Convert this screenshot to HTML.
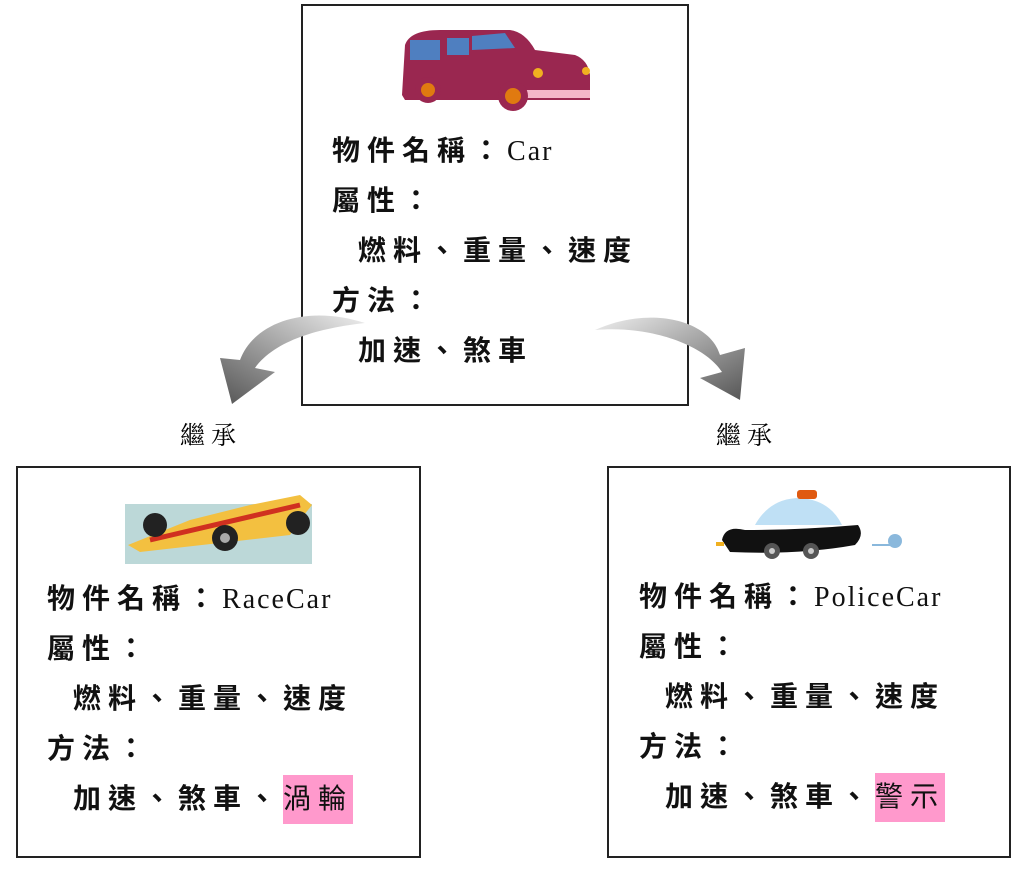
<!DOCTYPE html>
<html><head><meta charset="utf-8"><style>
body{margin:0;width:1017px;height:869px;background:#fff;position:relative;overflow:hidden;font-family:"Liberation Serif","Noto Sans CJK TC",serif;}
.box{position:absolute;border:2px solid #222;box-sizing:border-box;background:#fff}
.t{position:absolute;font-size:28px;line-height:30px;white-space:nowrap;color:#111;font-family:"Liberation Serif","Noto Sans CJK TC",sans-serif;letter-spacing:7px;font-weight:bold}
.t span.l{letter-spacing:2px;font-weight:normal}
.hl{background:#ff99cc;padding:9px 0 9px 0;font-weight:normal}
.lbl{position:absolute;font-size:25px;font-family:"Noto Serif CJK SC","Noto Sans CJK TC",serif;letter-spacing:6px}
</style></head><body>
<div class="box" style="left:301px;top:4px;width:388px;height:402px"></div>
<div class="box" style="left:16px;top:466px;width:405px;height:392px"></div>
<div class="box" style="left:607px;top:466px;width:404px;height:392px"></div>

<svg width="1017" height="869" style="position:absolute;left:0;top:0">
<defs>
<linearGradient id="g1" x1="1" y1="0" x2="0" y2="1"><stop offset="0" stop-color="#eee"/><stop offset="1" stop-color="#555"/></linearGradient>
<linearGradient id="g2" x1="0" y1="0" x2="1" y2="1"><stop offset="0" stop-color="#eee"/><stop offset="1" stop-color="#555"/></linearGradient>
</defs>
<path d="M365,323 C310,305 255,320 240,360 L220,358 L232,404 L275,372 L255,368 C275,340 320,328 365,323 Z" fill="url(#g1)"/>
<path d="M595,330 C650,305 710,320 720,355 L745,348 L740,400 L700,378 L722,372 C705,345 650,325 595,330 Z" fill="url(#g2)"/>
<g>
<path d="M402,95 L405,45 Q410,30 440,30 L510,30 Q525,32 535,50 L575,55 Q588,60 590,75 L590,100 L405,100 Z" fill="#9a2750"/>
<rect x="410" y="40" width="30" height="20" fill="#4f7fc0"/>
<rect x="447" y="38" width="22" height="17" fill="#4f7fc0"/>
<path d="M472,36 L505,33 L515,48 L472,50 Z" fill="#4f7fc0"/>
<rect x="505" y="90" width="85" height="8" fill="#f4b6c8"/>
<circle cx="428" cy="90" r="13" fill="#9a2750"/><circle cx="428" cy="90" r="7" fill="#e07a10"/>
<circle cx="513" cy="96" r="15" fill="#9a2750"/><circle cx="513" cy="96" r="8" fill="#e07a10"/>
<circle cx="538" cy="73" r="5" fill="#f0b020"/><circle cx="586" cy="71" r="4" fill="#f0b020"/>
</g>
<rect x="125" y="504" width="187" height="60" fill="#bcd8d8"/>
<path d="M128,545 L190,520 L250,505 L300,495 L312,505 L300,520 L290,535 L140,552 Z" fill="#f3c040"/>
<path d="M150,540 L300,505" stroke="#d03020" stroke-width="5"/>
<circle cx="155" cy="525" r="12" fill="#222"/><circle cx="225" cy="538" r="13" fill="#222"/><circle cx="298" cy="523" r="12" fill="#222"/>
<circle cx="225" cy="538" r="5" fill="#aaa"/>
<path d="M755,525 Q770,498 800,498 Q830,500 842,525 Z" fill="#bfe0f5"/>
<rect x="797" y="490" width="20" height="9" rx="3" fill="#e05a10"/>
<path d="M722,540 Q725,525 745,530 Q800,530 858,525 Q865,535 855,545 Q800,555 730,552 Z" fill="#111"/>
<rect x="716" y="542" width="8" height="4" fill="#f0b020"/>
<circle cx="772" cy="551" r="8" fill="#555"/><circle cx="772" cy="551" r="3" fill="#ccc"/>
<circle cx="811" cy="551" r="8" fill="#555"/><circle cx="811" cy="551" r="3" fill="#ccc"/>
<circle cx="895" cy="541" r="7" fill="#8ab8dc"/><line x1="872" y1="545" x2="890" y2="545" stroke="#8ab8dc" stroke-width="2"/>
</svg>

<div class="lbl" style="left:180px;top:416px">繼承</div>
<div class="lbl" style="left:716px;top:416px">繼承</div>

<div class="t" style="left:332px;top:137px">物件名稱：<span class="l">Car</span></div>
<div class="t" style="left:332px;top:187px">屬性：</div>
<div class="t" style="left:358px;top:237px">燃料、重量、速度</div>
<div class="t" style="left:332px;top:287px">方法：</div>
<div class="t" style="left:358px;top:337px">加速、煞車</div>

<div class="t" style="left:47px;top:585px">物件名稱：<span class="l">RaceCar</span></div>
<div class="t" style="left:47px;top:635px">屬性：</div>
<div class="t" style="left:73px;top:685px">燃料、重量、速度</div>
<div class="t" style="left:47px;top:735px">方法：</div>
<div class="t" style="left:73px;top:785px">加速、煞車、<span class="hl">渦輪</span></div>

<div class="t" style="left:639px;top:583px">物件名稱：<span class="l">PoliceCar</span></div>
<div class="t" style="left:639px;top:633px">屬性：</div>
<div class="t" style="left:665px;top:683px">燃料、重量、速度</div>
<div class="t" style="left:639px;top:733px">方法：</div>
<div class="t" style="left:665px;top:783px">加速、煞車、<span class="hl">警示</span></div>
</body></html>
